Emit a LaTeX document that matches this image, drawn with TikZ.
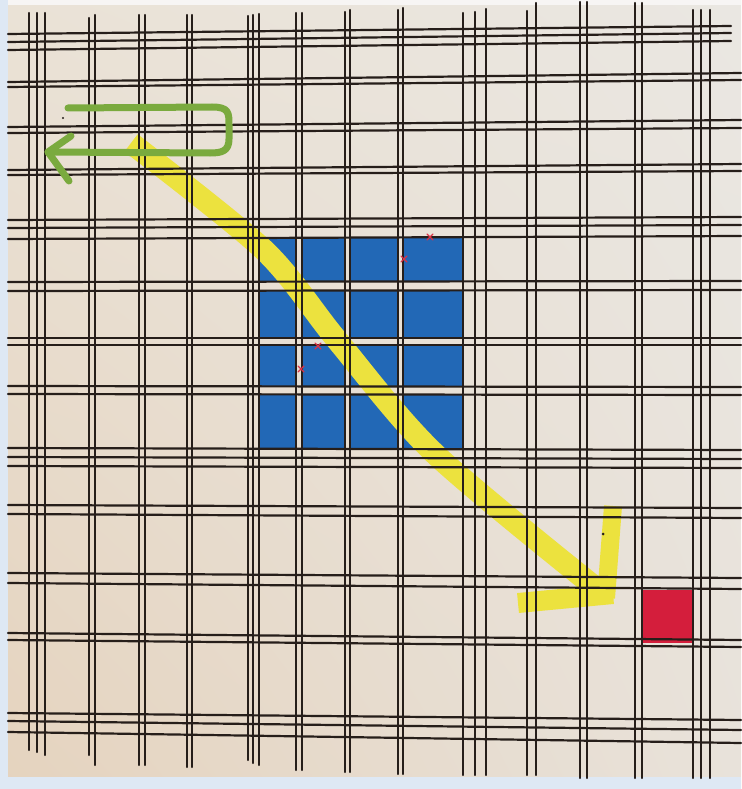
\documentclass[tikz,border=0pt]{standalone}
\usetikzlibrary{shadings}
\definecolor{paperul}{RGB}{234,226,214}
\definecolor{paperur}{RGB}{234,231,226}
\definecolor{paperll}{RGB}{229,211,190}
\definecolor{paperlr}{RGB}{232,226,218}
\definecolor{edgeblue}{RGB}{222,232,244}
\definecolor{inkc}{RGB}{38,30,26}
\definecolor{cellblue}{RGB}{34,104,182}
\definecolor{redsq}{RGB}{212,30,60}
\definecolor{hilite}{RGB}{236,226,62}
\definecolor{greenpen}{RGB}{122,170,62}
\definecolor{redpen}{RGB}{220,50,70}
\begin{document}
\begin{tikzpicture}[x=1pt,y=-1pt,
  gridline/.style={line width=2.2pt, draw=inkc, line cap=round},
  cellfill/.style={fill=cellblue},
  yellowpen/.style={draw=hilite, line join=round},
  greenstroke/.style={draw=greenpen, line width=7pt, line join=round, line cap=round},
  redmark/.style={draw=redpen, line width=1.2pt, line cap=round}]
\useasboundingbox (0,0) rectangle (741,789);
% paper
\shade[upper left=paperul, upper right=paperur, lower left=paperll, lower right=paperlr]
  (0,0) rectangle (741,789);
\fill[edgeblue] (0,0) rectangle (8,789);
\fill[edgeblue] (0,777) rectangle (741,789);
\fill[white!60!paperur] (8,0) rectangle (741,5);
% blue cells
\foreach \xa/\xb in {260/296, 302/345, 350/398, 403/463}
  \foreach \ya/\yb in {238/282, 291/338, 345/386, 394/450}
    \fill[cellfill] (\xa,\ya) rectangle (\xb,\yb);
% red square
\fill[redsq] (642,590) rectangle (694,643);
% yellow highlighter arrow
\draw[yellowpen, line width=22pt] plot[smooth, tension=0.5] coordinates
  {(131,143) (264,250) (337,340) (434,453) (596,588)};
\draw[yellowpen, line width=18pt] (613,506) -- (606,598);
\draw[yellowpen, line width=20pt] (518,603) -- (613,594);
% vertical lines
\foreach \x/\ta/\tb in {29/13/750, 37/13/752, 45/13/755, 89/18/755, 95/15/765,
  139/15/765, 145/15/765, 187/15/767, 192/15/767, 248/16/760, 253/15/763,
  259/14/765, 296/13/770, 302/13/770, 345/12/772, 350/10/772, 398/10/774,
  403/8/774, 463/13/775, 475/12/775, 486/9/775, 527/11/775, 536/3/775,
  580/2/778, 587/2/778, 635/3/778, 642/3/778, 693/10/778, 701/10/778, 710/10/778}
  \draw[gridline] (\x,\ta) -- (\x,\tb);
% horizontal lines
\foreach \ya/\yb in {34/26, 42/33, 50/41}
  \draw[gridline] (8,\ya) -- (731,\yb);
\foreach \ya/\yb in {82/73, 87/80, 127/120, 133/128, 170/164, 175/171,
  220/217, 228/225, 239/236, 282/281, 291/290, 338/338, 345/345, 386/387,
  394/395, 448/450, 457/459, 466/468, 505/508, 514/518, 573/578, 583/589,
  633/640, 640/647, 713/720, 721/730, 732/743}
  \draw[gridline] (8,\ya) -- (741,\yb);
% green arrow
\draw[greenstroke] (68,108) -- (212,107) .. controls (229,107) and (229,113) .. (229,125)
  -- (229,139) .. controls (229,151) and (222,153) .. (210,153) -- (48,152);
\draw[greenstroke] (71,136) -- (48,152) -- (69,181);
% red marks
\foreach \px/\py in {430/237, 404/259, 318/346, 301/369}
  \draw[redmark] (\px-3,\py-3) -- (\px+3,\py+3) (\px-3,\py+3) -- (\px+3,\py-3);
% specks
\fill[inkc] (603,534) circle (1.5);
\fill[inkc] (63,118) circle (1.2);
\end{tikzpicture}
\end{document}
